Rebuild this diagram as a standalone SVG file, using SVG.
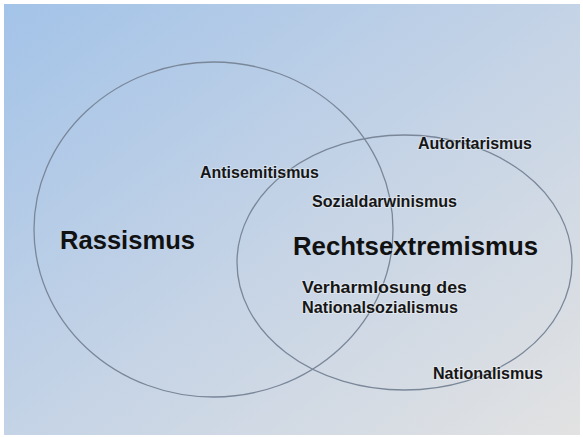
<svg xmlns="http://www.w3.org/2000/svg" width="583" height="437" viewBox="0 0 583 437">
  <defs>
    <linearGradient id="bg" x1="0" y1="0" x2="1" y2="1">
      <stop offset="0" stop-color="#a3c3e8"/>
      <stop offset="0.5" stop-color="#c4d3e6"/>
      <stop offset="1" stop-color="#e2e2e2"/>
    </linearGradient>
  </defs>
  <style>
    .ring { fill: none; stroke: #7a8799; stroke-width: 1.3; }
    .big { font-family: "Liberation Sans", Arial, sans-serif; font-weight: bold; font-size: 25px; fill: #111; }
    .small { font-family: "Liberation Sans", Arial, sans-serif; font-weight: bold; font-size: 16px; fill: #161616; stroke: #ffffff; stroke-opacity: 0.35; stroke-width: 2; paint-order: stroke; }
  </style>
  <rect x="0" y="0" width="583" height="437" fill="#ffffff"/>
  <rect x="4" y="4" width="576" height="431" fill="url(#bg)"/>
  <g id="rassismus">
    <ellipse class="ring" cx="213.5" cy="229.5" rx="179.5" ry="167.5"/>
    <text class="big" x="60" y="249" textLength="135" lengthAdjust="spacingAndGlyphs">Rassismus</text>
  </g>
  <g id="rechtsextremismus">
    <ellipse class="ring" cx="404.5" cy="262.5" rx="167.5" ry="127.5"/>
    <text class="big" x="293" y="255" textLength="245" lengthAdjust="spacingAndGlyphs">Rechtsextremismus</text>
  </g>
  <g id="antisemitismus">
    <text class="small" x="200" y="178" textLength="119" lengthAdjust="spacingAndGlyphs">Antisemitismus</text>
  </g>
  <g id="sozialdarwinismus">
    <text class="small" x="312" y="207" textLength="145" lengthAdjust="spacingAndGlyphs">Sozialdarwinismus</text>
  </g>
  <g id="autoritarismus">
    <text class="small" x="418" y="149" textLength="114" lengthAdjust="spacingAndGlyphs">Autoritarismus</text>
  </g>
  <g id="verharmlosung">
    <text class="small" x="302" y="293" textLength="165" lengthAdjust="spacingAndGlyphs">Verharmlosung des</text>
    <text class="small" x="302" y="313" textLength="156" lengthAdjust="spacingAndGlyphs">Nationalsozialismus</text>
  </g>
  <g id="nationalismus">
    <text class="small" x="433" y="379" textLength="110" lengthAdjust="spacingAndGlyphs">Nationalismus</text>
  </g>
  <g id="connectors"></g>
</svg>
